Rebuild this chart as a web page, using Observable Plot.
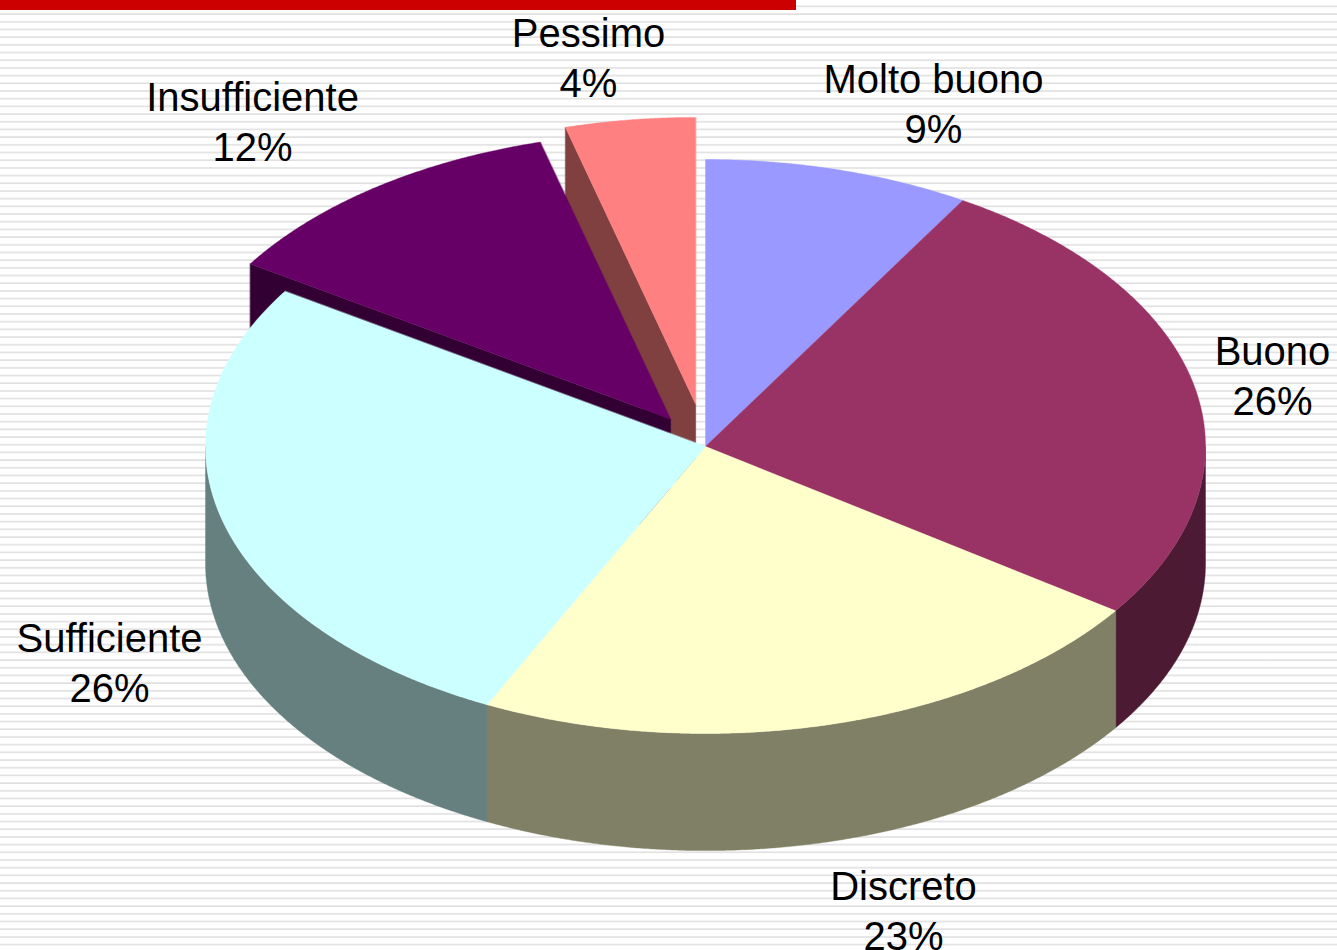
<!DOCTYPE html>
<html lang="it">
<head>
<meta charset="utf-8">
<title>Giudizi</title>
<script src="https://cdn.jsdelivr.net/npm/d3@7"></script>
<script src="https://cdn.jsdelivr.net/npm/@observablehq/plot@0.6"></script>
<style>
  html, body { margin: 0; padding: 0; background: #fff; overflow: hidden; }
  svg { display: block; }
</style>
</head>
<body>
<div id="chart"></div>
<script>
// Data
const categories = ["Molto buono", "Buono", "Discreto", "Sufficiente", "Insufficiente", "Pessimo"];
const shares = [8.6, 26.1, 22.5, 26.9, 11.7, 4.2];
const percentLabels = ["9%", "26%", "23%", "26%", "12%", "4%"];
const topColors = ["#9999ff", "#993366", "#ffffcc", "#ccffff", "#660066", "#ff8080"];
const wallColors = ["#4d4d80", "#4d1a33", "#808066", "#668080", "#330033", "#804040"];
const explode = [0, 0, 0, 0, 0.118, 0.148];

// Layout: pie radius = 1 on both axes, depth of the disc, label anchors in the same units
const depth = 0.408;
const labelAnchors = [[0.456, 1.199], [1.134, 0.254], [0.396, -1.61], [-1.192, -0.749], [-0.906, 1.136], [-0.234, 1.362]];

const total = d3.sum(shares);
const cum = d3.cumsum(shares);
const slices = categories.map((name, i) => {
  const a0 = (i ? cum[i - 1] : 0) / total * 2 * Math.PI;
  const a1 = cum[i] / total * 2 * Math.PI;
  const mid = (a0 + a1) / 2;
  return {name, i, a0, a1, dx: explode[i] * Math.sin(mid), dy: explode[i] * Math.cos(mid)};
});

const onRim = (s, a, drop = 0) => ({x: s.dx + Math.sin(a), y: s.dy + Math.cos(a) - drop});
const arcAngles = (a0, a1) => {
  const n = Math.max(2, Math.ceil((a1 - a0) / 0.005));
  return d3.range(n + 1).map((k) => a0 + (a1 - a0) * k / n);
};

const shapes = [];
const add = (id, color, pts) => pts.forEach((p) => shapes.push({...p, id, color}));

// Exploded slices sit behind the disc: left radial face first, then the top
for (const s of [slices[5], slices[4]]) {
  add(s.name + " face", wallColors[s.i], [
    onRim(s, s.a0), {x: s.dx, y: s.dy}, {x: s.dx, y: s.dy - depth}, onRim(s, s.a0, depth)
  ]);
  add(s.name + " top", topColors[s.i], [
    {x: s.dx, y: s.dy}, ...arcAngles(s.a0, s.a1).map((a) => onRim(s, a))
  ]);
}
// Outer walls of the front half
for (const s of slices.slice(0, 4)) {
  const a0 = Math.max(s.a0, Math.PI / 2), a1 = Math.min(s.a1, 3 * Math.PI / 2);
  if (a1 <= a0) continue;
  const arc = arcAngles(a0, a1);
  add(s.name + " wall", wallColors[s.i], [
    ...arc.map((a) => onRim(s, a)), ...arc.slice().reverse().map((a) => onRim(s, a, depth))
  ]);
}
// Tops of the disc
for (const s of slices.slice(0, 4)) {
  add(s.name + " top", topColors[s.i], [
    {x: 0, y: 0}, ...arcAngles(s.a0, s.a1).map((a) => onRim(s, a))
  ]);
}

const labels = categories.map((name, i) => ({
  text: name + "\n" + percentLabels[i],
  x: labelAnchors[i][0],
  y: labelAnchors[i][1]
}));

const chart = Plot.plot({
  width: 1337,
  height: 950,
  margin: 0,
  x: {domain: [-705 / 500, 632 / 500], range: [0, 1337], axis: null},
  y: {domain: [-504 / 287, 446 / 287], range: [950, 0], axis: null},
  color: {type: "identity"},
  style: {
    background: "linear-gradient(#cc0000, #cc0000) 0 0 / 796px 10px no-repeat, repeating-linear-gradient(180deg, #fff 0, #fff 5px, #e8e8e8 5.8px, #e0e0e0 6.8px, #fff 7.69px)",
    overflow: "visible"
  },
  marks: [
    Plot.line(shapes, {
      x: "x", y: "y", z: "id",
      fill: "color", stroke: "color", strokeWidth: 0.4,
      curve: "linear-closed"
    }),
    Plot.text(labels, {
      x: "x", y: "y", text: "text",
      fontFamily: "Liberation Sans, Arial, sans-serif",
      fontSize: 40, lineHeight: 1.25, fill: "#000", textAnchor: "middle"
    })
  ]
});
document.getElementById("chart").append(chart);
</script>
</body>
</html>
